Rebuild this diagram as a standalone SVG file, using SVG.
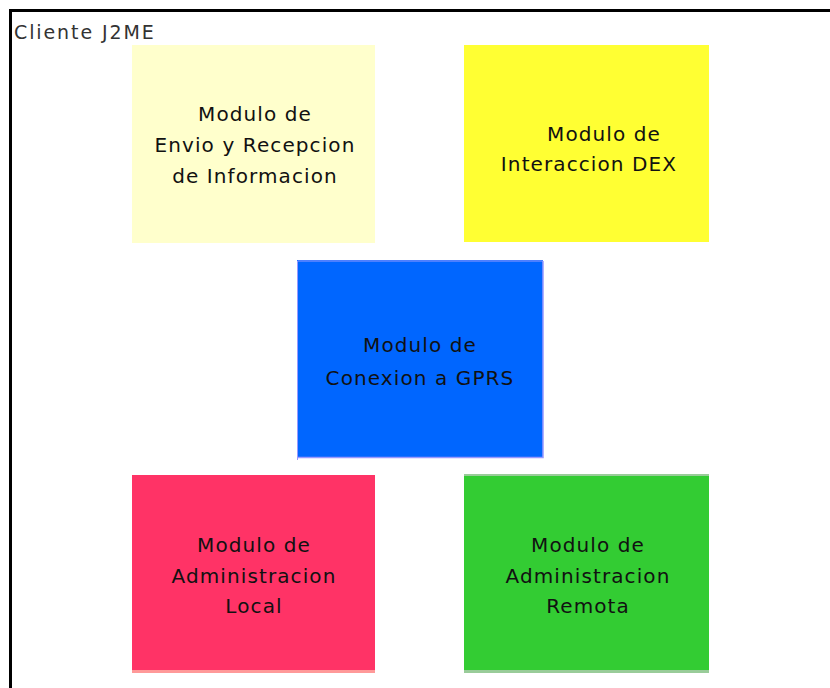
<svg xmlns="http://www.w3.org/2000/svg" width="830" height="688" viewBox="0 0 830 688">
<style>
.t{font-family:"URW Gothic","Century Gothic","DejaVu Sans","Liberation Sans",sans-serif;font-size:20px;letter-spacing:1.1px;fill:#111;text-anchor:middle}
.title{font-family:"DejaVu Sans","Liberation Sans",sans-serif;font-size:19px;letter-spacing:1.9px;fill:#333}
</style>
<rect width="830" height="688" fill="#fff"/>
<g id="frame">
<path d="M10.5,688 V10.5 H830" fill="none" stroke="#000" stroke-width="3"/>
<text class="title" x="14" y="39">Cliente J2ME</text>
</g>
<g id="envio">
<rect x="132" y="45" width="243" height="198" fill="#FFFFCC"/>
<text class="t" x="255" y="121">Modulo de</text>
<text class="t" x="255" y="152">Envio y Recepcion</text>
<text class="t" x="255" y="183">de Informacion</text>
</g>
<g id="dex">
<rect x="464" y="45" width="245" height="197" fill="#FFFF33"/>
<text class="t" x="604" y="141">Modulo de</text>
<text class="t" x="589" y="171">Interaccion DEX</text>
</g>
<g id="gprs">
<rect x="297" y="260" width="246" height="198" fill="#0066FF"/>
<path d="M297.5,460 V261 H543" fill="none" stroke="#9999FF" stroke-width="1"/>
<path d="M297,457.5 H543 V261" fill="none" stroke="#9999FF" stroke-width="1.5"/>
<text class="t" x="420" y="352">Modulo de</text>
<text class="t" x="420" y="385">Conexion a GPRS</text>
</g>
<g id="local">
<rect x="132" y="475" width="243" height="197" fill="#FF3366"/>
<rect x="132" y="670" width="243" height="3" fill="#FF9999"/>
<text class="t" x="254" y="552">Modulo de</text>
<text class="t" x="254" y="583">Administracion</text>
<text class="t" x="254" y="613">Local</text>
</g>
<g id="remota">
<rect x="464" y="475" width="245" height="197" fill="#33CC33"/>
<rect x="464" y="474" width="245" height="2" fill="#99CC99"/>
<rect x="464" y="670" width="245" height="3" fill="#99CC99"/>
<text class="t" x="588" y="552">Modulo de</text>
<text class="t" x="588" y="583">Administracion</text>
<text class="t" x="588" y="613">Remota</text>
</g>
<g id="connectors"/>
</svg>
